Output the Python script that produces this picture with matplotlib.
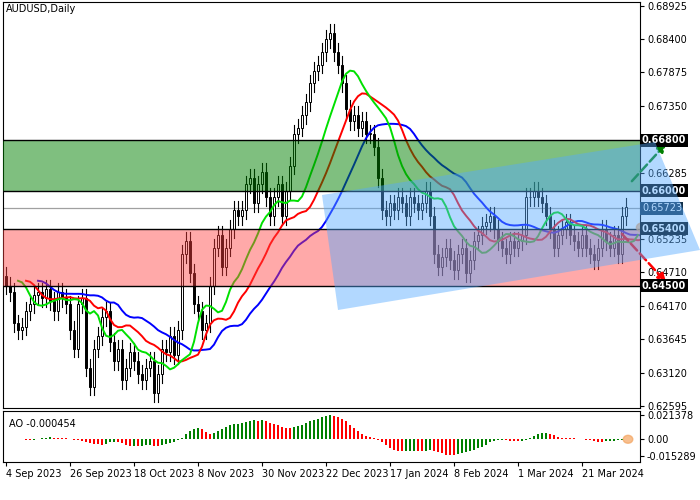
import matplotlib
matplotlib.use("Agg")
import matplotlib.pyplot as plt
import numpy as np
from matplotlib.patches import Polygon, Rectangle, Ellipse

closes = [
 0.6450,0.6440,0.6390,0.6380,0.6385,0.6410,0.6420,0.6435,0.6440,0.6430,0.6445,0.6425,0.6410,0.6440,0.6430,
 0.6420,0.6380,0.6350,0.6420,0.6430,0.6320,0.6290,0.6350,0.6370,0.6400,0.6410,0.6360,0.6330,0.6350,0.6300,
 0.6320,0.6345,0.6330,0.6310,0.6300,0.6320,0.6330,0.6280,0.6310,0.6350,0.6345,0.6370,0.6340,0.6380,0.6500,
 0.6520,0.6470,0.6420,0.6410,0.6380,0.6390,0.6450,0.6510,0.6530,0.6480,0.6510,0.6540,0.6570,0.6560,0.6570,
 0.6610,0.6620,0.6580,0.6610,0.6630,0.6590,0.6560,0.6590,0.6610,0.6560,0.6600,0.6640,0.6690,0.6700,0.6720,
 0.6740,0.6770,0.6790,0.6800,0.6820,0.6840,0.6850,0.6820,0.6800,0.6770,0.6730,0.6710,0.6720,0.6700,0.6710,
 0.6690,0.6690,0.6670,0.6620,0.6570,0.6560,0.6580,0.6570,0.6590,0.6580,0.6560,0.6590,0.6580,0.6570,0.6580,
 0.6600,0.6560,0.6500,0.6480,0.6495,0.6510,0.6490,0.6475,0.6500,0.6510,0.6470,0.6490,0.6520,0.6530,0.6545,
 0.6550,0.6560,0.6540,0.6520,0.6510,0.6500,0.6520,0.6510,0.6520,0.6530,0.6590,0.6590,0.6600,0.6590,0.6580,
 0.6560,0.6540,0.6510,0.6530,0.6540,0.6550,0.6530,0.6520,0.6510,0.6530,0.6510,0.6500,0.6490,0.6510,0.6540,
 0.6520,0.6510,0.6530,0.6500,0.6560,0.6575,
]
first_open = 0.6465
wick = 0.0014
tick_idx = [0,16,32,48,64,80,96,112,128,144]
tick_lbl = ["4 Sep 2023","26 Sep 2023","18 Oct 2023","8 Nov 2023","30 Nov 2023",
            "22 Dec 2023","17 Jan 2024","8 Feb 2024","1 Mar 2024","21 Mar 2024"]
price_ticks = [0.68925,0.68400,0.67875,0.67350,0.66285,0.65235,0.64710,0.64170,0.63645,0.63120,0.62595]
levels = [0.6680,0.6600,0.6540,0.6450]
current = 0.65723
ao_ticks = [0.021378,0.0,-0.015289]

c = np.array(closes)
n = len(c)
o = np.concatenate([[first_open], c[:-1]])
h = np.maximum(o, c) + wick
l = np.minimum(o, c) - wick
x = np.arange(n)

def smma(a, k):
    out = np.empty(len(a)); out[0] = a[0]
    for i in range(1, len(a)):
        out[i] = (out[i-1]*(k-1) + a[i]) / k
    return out
def sma(a, k):
    return np.array([a[max(0, i-k+1):i+1].mean() for i in range(len(a))])

med = (h + l) / 2
ao = sma(med, 5) - sma(med, 34)

plt.rcParams['font.family'] = 'DejaVu Sans'
fig = plt.figure(figsize=(7, 5), dpi=100)
W, H = 700, 500
ax = fig.add_axes([3/W, 1-408/H, 637/W, 406/H])
ax2 = fig.add_axes([3/W, 1-462/H, 637/W, 51/H], sharex=ax)
ax.set_xlim(-0.75, 158.5); ax.set_ylim(0.6256, 0.6899)

for i in range(n):
    ax.plot([i, i], [l[i], h[i]], color='black', lw=0.8, zorder=2)
    bull = c[i] >= o[i]
    bh = max(abs(c[i]-o[i]), 0.00008)
    ax.add_patch(Rectangle((i-0.32, min(o[i], c[i])), 0.64, bh,
                           facecolor='white' if bull else 'black', edgecolor='black', lw=0.7, zorder=3))

for k, s, col in [(13, 8, '#0000ff'), (8, 5, '#ff0000'), (5, 3, '#00e000')]:
    ys = smma(med, k)
    ax.plot(np.arange(len(ys)) + s, ys, color=col, lw=1.4, zorder=4)

ax.axhspan(0.6600, 0.6680, color='#008000', alpha=0.5, lw=0, zorder=5)
ax.axhspan(0.6450, 0.6540, color='#ff4040', alpha=0.45, lw=0, zorder=5)
for lv in levels:
    ax.axhline(lv, color='black', lw=1, zorder=6)
ax.axhline(current, color='#a0a0a0', lw=0.9, zorder=1)

poly = Polygon([(322/W, 1-195/H), (655/W, 1-142/H), (700/W, 1-250/H), (338/W, 1-310/H)],
               closed=True, transform=fig.transFigure, facecolor='#55aaff', alpha=0.45, lw=0, zorder=5)
fig.patches.append(poly)

ax.annotate('', xy=(165.5, 0.6678), xytext=(156, 0.6612), annotation_clip=False,
            arrowprops=dict(arrowstyle='-|>', ls='--', color='#008000', lw=1.8, mutation_scale=12), zorder=7)
ax.annotate('', xy=(165.5, 0.6452), xytext=(153.5, 0.6535), annotation_clip=False,
            arrowprops=dict(arrowstyle='-|>', ls='--', color='#ff0000', lw=1.8, mutation_scale=12), zorder=7)
ax.add_patch(Ellipse((159, 0.6542), 2.8, 0.0014, color='#f4a460', alpha=0.7, zorder=8, clip_on=False))

ax.text(0.005, 0.995, 'AUDUSD,Daily', transform=ax.transAxes, ha='left', va='top', fontsize=7, zorder=9)
ax.yaxis.tick_right()
ax.set_yticks(price_ticks)
ax.set_yticklabels([f"{v:.5f}" for v in price_ticks], fontsize=7)
ax.tick_params(axis='y', length=3, pad=2)
ax.tick_params(axis='x', length=0, labelbottom=False)
for lv in levels:
    ax.text(1.003, lv, f"{lv:.5f}", transform=ax.get_yaxis_transform(), fontsize=7, color='white',
            va='center', ha='left', fontweight='bold',
            bbox=dict(boxstyle='square,pad=0.15', fc='black', ec='none'), clip_on=False, zorder=10)
ax.text(1.003, current, f"{current:.5f}", transform=ax.get_yaxis_transform(), fontsize=7, color='white',
        va='center', ha='left', bbox=dict(boxstyle='square,pad=0.15', fc='#12304a', ec='none'),
        clip_on=False, zorder=10)

cols = ['#008000' if i > 0 and ao[i] >= ao[i-1] else '#ff0000' for i in range(n)]
ax2.bar(x, ao, width=0.7, color=cols)
ax2.set_ylim(-0.0205, 0.0245)
ax2.add_patch(Ellipse((n-0.5, ao[-1]), 2.4, 0.007, color='#f4a460', alpha=0.7, zorder=8))
ax2.text(0.01, 0.85, f'AO {ao[-1]:.6f}', transform=ax2.transAxes, fontsize=7, va='top')
ax2.yaxis.tick_right()
ax2.set_yticks(ao_ticks)
ax2.set_yticklabels(["0.021378", "0.00", "-0.015289"], fontsize=7)
ax2.tick_params(axis='y', length=3, pad=2)
ax2.set_xticks(tick_idx)
ax2.set_xticklabels(tick_lbl, fontsize=7, ha='left')
ax2.tick_params(axis='x', length=3, pad=2)

fig.savefig('out.png', dpi=100)
